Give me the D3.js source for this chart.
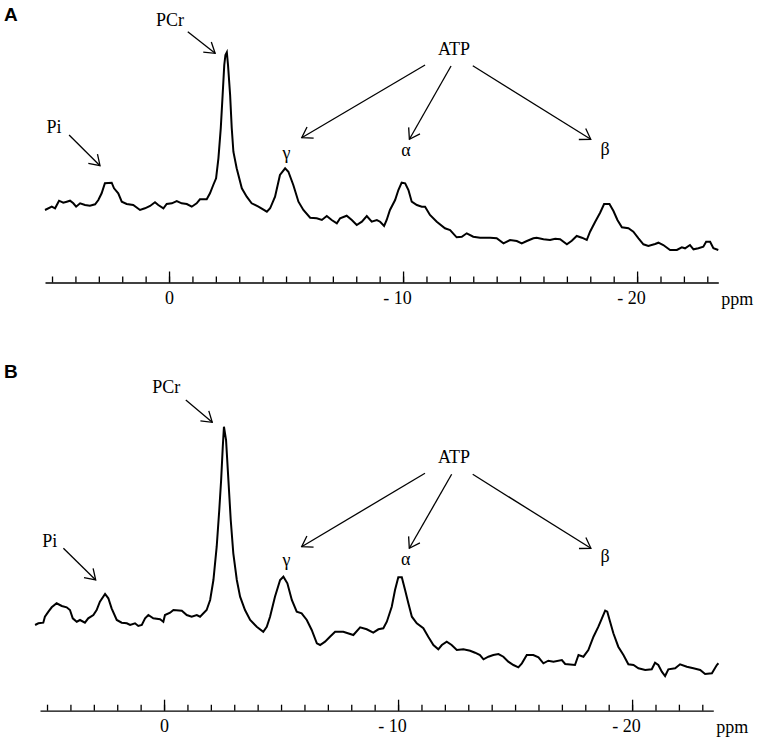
<!DOCTYPE html>
<html>
<head>
<meta charset="utf-8">
<script src="https://cdn.jsdelivr.net/npm/d3@7"></script>
<style>
	body { margin: 0; background: #fff; }
	svg { display: block; }
</style>
</head>
<body>
<script>
const w = 757;
const h = 740;
const serif = 'Liberation Serif, Times New Roman, DejaVu Serif, serif';

// chemical shift (ppm) and signal height (a.u.)
const ppmA = [5.30, 5.01, 4.87, 4.70, 4.52, 4.37, 4.23, 4.09, 3.97, 3.80, 3.59, 3.38, 3.16, 3.02, 2.88, 2.74, 2.45, 2.35, 2.17, 2.02,
	1.81, 1.53, 1.24, 1.03, 0.81, 0.60, 0.46, 0.24, 0.10, -0.12, -0.33, -0.54, -0.76, -0.97, -1.18, -1.32, -1.61, -1.75, -1.89, -2.01,
	-2.11, -2.21, -2.29, -2.36, -2.41, -2.47, -2.52, -2.61, -2.68, -2.75, -2.89, -3.11, -3.32, -3.53, -3.82, -4.18, -4.32, -4.53, -4.74, -4.96,
	-5.10, -5.31, -5.53, -5.74, -6.03, -6.31, -6.53, -6.74, -6.95, -7.17, -7.31, -7.59, -7.81, -8.02, -8.24, -8.45, -8.66, -8.88, -9.02, -9.19,
	-9.30, -9.44, -9.66, -9.80, -9.94, -10.09, -10.23, -10.37, -10.59, -10.80, -10.94, -11.15, -11.44, -11.79, -12.01, -12.29, -12.51, -12.72, -13.00, -13.29,
	-13.72, -14.00, -14.29, -14.57, -14.86, -15.07, -15.29, -15.57, -15.71, -16.00, -16.28, -16.50, -16.71, -17.00, -17.21, -17.42, -17.64, -17.85, -17.99, -18.21,
	-18.42, -18.59, -18.82, -18.99, -19.16, -19.35, -19.63, -19.84, -20.06, -20.27, -20.48, -20.77, -20.91, -21.12, -21.41, -21.70, -21.91, -22.05, -22.26, -22.41,
	-22.62, -22.83, -22.95, -23.12, -23.26, -23.47];
const intA = [72.5, 75.8, 74.2, 81.8, 79.8, 80.8, 81.8, 79.2, 75.8, 79.2, 77.5, 76.8, 78.2, 82.5, 89.2, 99.2, 99.8, 94.2, 89.2, 80.8,
	78.5, 77.5, 72.5, 74.2, 76.5, 80.2, 77.5, 74.2, 78.5, 79.2, 81.5, 79.2, 78.5, 75.8, 79.2, 83.2, 83.2, 89.2, 97.5, 104.2,
	124.2, 154.2, 187.5, 217.5, 227.5, 230.2, 217.5, 187.5, 154.2, 130.8, 114.2, 94.2, 85.8, 79.2, 75.8, 70.8, 74.2, 85.8, 107.5, 114.2,
	110.8, 97.5, 80.8, 72.5, 64.8, 64.2, 62.5, 66.5, 62.5, 59.2, 64.2, 66.8, 62.5, 57.5, 60.8, 66.5, 60.8, 62.5, 60.8, 56.5,
	62.5, 72.5, 82.5, 92.5, 99.8, 99.2, 92.5, 80.8, 77.5, 75.8, 75.8, 67.5, 60.8, 54.2, 52.5, 45.2, 45.8, 49.2, 45.8, 44.8,
	44.8, 44.2, 39.2, 42.5, 41.5, 39.2, 41.5, 44.2, 44.8, 43.2, 42.5, 43.8, 43.2, 38.2, 41.8, 46.5, 44.8, 42.5, 50.8, 60.8,
	69.8, 78.5, 78.5, 71.5, 62.5, 55.2, 54.2, 50.8, 44.2, 38.2, 36.5, 38.5, 39.8, 37.5, 32.5, 32.5, 35.2, 34.2, 37.5, 33.2,
	34.2, 35.8, 40.8, 40.8, 34.2, 32.5];

const ppmB = [5.51, 5.37, 5.16, 5.09, 4.94, 4.80, 4.59, 4.37, 4.16, 4.02, 3.90, 3.73, 3.59, 3.38, 3.24, 3.02, 2.88, 2.74, 2.52, 2.38,
	2.24, 2.02, 1.81, 1.59, 1.45, 1.24, 1.10, 0.95, 0.81, 0.67, 0.46, 0.17, 0.03, -0.04, -0.26, -0.40, -0.76, -0.97, -1.18, -1.40,
	-1.54, -1.82, -1.97, -2.11, -2.25, -2.36, -2.44, -2.51, -2.56, -2.65, -2.75, -2.85, -2.96, -3.11, -3.25, -3.46, -3.68, -3.96, -4.24, -4.39,
	-4.53, -4.74, -4.96, -5.10, -5.27, -5.46, -5.67, -5.88, -6.10, -6.31, -6.53, -6.67, -6.88, -7.09, -7.31, -7.66, -8.09, -8.38, -8.66, -8.94,
	-9.16, -9.37, -9.52, -9.73, -9.87, -10.01, -10.16, -10.30, -10.44, -10.59, -10.80, -11.08, -11.29, -11.51, -11.72, -11.87, -12.08, -12.29, -12.51, -12.79,
	-13.08, -13.29, -13.50, -13.65, -13.86, -14.07, -14.29, -14.50, -14.71, -14.93, -15.14, -15.29, -15.50, -15.78, -16.00, -16.21, -16.42, -16.64, -17.00, -17.14,
	-17.56, -17.71, -17.92, -18.13, -18.35, -18.56, -18.71, -18.85, -18.94, -19.06, -19.20, -19.41, -19.63, -19.84, -20.06, -20.27, -20.56, -20.84, -20.98, -21.12,
	-21.27, -21.41, -21.55, -21.84, -22.05, -22.34, -22.62, -22.91, -23.12, -23.41, -23.62, -23.69];
const intB = [85.7, 87.4, 88.0, 94.0, 99.0, 103.4, 107.4, 104.7, 103.4, 100.7, 92.4, 89.0, 90.7, 88.0, 92.4, 95.7, 100.7, 109.0, 116.7, 112.4,
	102.4, 90.7, 88.0, 87.4, 85.7, 87.4, 84.7, 85.7, 92.4, 95.7, 92.4, 91.4, 89.0, 95.7, 98.0, 100.7, 100.0, 95.7, 94.0, 95.7,
	94.0, 100.7, 110.7, 130.7, 164.0, 200.7, 230.7, 264.0, 284.0, 270.7, 230.7, 190.7, 157.4, 130.7, 114.0, 100.7, 90.7, 84.0, 79.0, 84.0,
	94.0, 114.0, 130.7, 134.0, 127.4, 110.7, 99.0, 97.4, 90.7, 80.7, 67.4, 65.7, 69.0, 74.0, 79.0, 79.0, 75.7, 83.4, 81.4, 78.0,
	81.4, 82.4, 89.0, 104.0, 120.7, 133.4, 133.4, 120.7, 107.4, 94.0, 87.4, 82.4, 74.0, 65.7, 61.4, 65.7, 69.0, 65.7, 60.7, 61.4,
	60.0, 58.0, 55.7, 51.4, 54.0, 55.7, 56.7, 54.0, 49.0, 45.7, 43.4, 47.4, 55.7, 55.7, 53.4, 47.4, 50.0, 49.0, 50.7, 46.7,
	45.7, 55.7, 54.0, 60.7, 74.0, 84.0, 92.4, 100.0, 99.0, 89.0, 77.4, 64.0, 55.7, 46.4, 45.7, 42.4, 40.7, 41.4, 48.0, 45.7,
	39.0, 34.7, 41.4, 42.4, 46.4, 44.0, 42.4, 40.7, 36.7, 37.4, 45.7, 47.4];

// axis: one tick per ppm, long ticks + labels every 10 ppm
const ppmExtent = [5.3, -23.47];
const tickPpm = d3.range(5, -24, -1);
const majorPpm = [0, -10, -20];

// peak annotations: [text, ppm, height]
const labelsA = [['Pi', 4.91, 149.5], ['PCr', -0.04, 256.5], ['ATP', -12.18, 227.5],
	['γ', -5.02, 123.5], ['α', -10.12, 126.5], ['β', -18.63, 127.5]];
const labelsB = [['Pi', 4.88, 163.7], ['PCr', -0.09, 317.4], ['ATP', -12.39, 247.4],
	['γ', -5.23, 144.7], ['α', -10.33, 145.7], ['β', -18.85, 148.7]];
// arrows: [ppm from, height from, ppm to, height to]
const arrowsA = [[4.27, 147.5, 2.95, 116.8], [-0.80, 250.8, -1.97, 229.2], [-10.94, 217.5, -5.67, 144.8],
	[-12.05, 216.5, -10.27, 143.2], [-12.98, 216.8, -18.02, 143.2]];
const arrowsB = [[4.30, 162.4, 2.92, 130.7], [-0.93, 310.7, -2.06, 288.4], [-11.15, 237.4, -5.88, 164.0],
	[-12.29, 236.4, -10.48, 162.4], [-13.19, 236.4, -18.24, 162.4]];

const svg = d3.select('body').append('svg').attr('width', w).attr('height', h);

svg.append('defs').append('marker')
	.attr('id', 'head')
	.attr('viewBox', '-1 -8 12 16')
	.attr('refX', 10)
	.attr('refY', 0)
	.attr('markerWidth', 12)
	.attr('markerHeight', 16)
	.attr('markerUnits', 'userSpaceOnUse')
	.attr('orient', 'auto')
	.append('path')
	.attr('d', 'M0,-6.5L10,0L0,6.5')
	.attr('fill', 'none')
	.attr('stroke', '#000')
	.attr('stroke-width', 1.3);

function drawPanel(cfg) {
	const g = svg.append('g');

	let x = d3.scaleLinear().domain(ppmExtent).range([ cfg.left, cfg.right ]);
	let y = d3.scaleLinear().domain([ 0, 300 ]).range([ cfg.base, cfg.base - 300 ]);

	g.append('text')
		.attr('x', cfg.letterX)
		.attr('y', cfg.letterY)
		.attr('font-family', 'Liberation Sans, Arial, sans-serif')
		.attr('font-size', 19)
		.attr('font-weight', 'bold')
		.text(cfg.letter);

	// minor ticks pointing up from the axis line
	const minor = g.append('g')
		.attr('transform', 'translate(0,' + cfg.base + ')')
		.call(d3.axisBottom(x).tickValues(tickPpm).tickSizeInner(-6).tickSizeOuter(0).tickFormat(''));

	// major ticks with labels
	const major = g.append('g')
		.attr('transform', 'translate(0,' + cfg.base + ')')
		.call(d3.axisBottom(x).tickValues(majorPpm).tickSizeInner(-11).tickSizeOuter(0).tickPadding(9)
			.tickFormat(function(d) {
				return d === 0 ? '0' : '- ' + Math.abs(d);
			}));
	major.select('.domain').remove();
	major.attr('font-family', serif).attr('font-size', 18);
	major.selectAll('text').attr('dx', function(d) {
		return d === 0 ? 0 : -6;
	});
	g.selectAll('path.domain, .tick line').attr('stroke-width', 1.3);

	g.append('text')
		.attr('x', cfg.right + 3)
		.attr('y', cfg.base + 22)
		.attr('font-family', serif)
		.attr('font-size', 18)
		.text('ppm');

	const line = d3.line()
		.x(function(d) { return x(d[0]); })
		.y(function(d) { return y(d[1]); });

	g.append('path')
		.datum(d3.zip(cfg.ppm, cfg.int))
		.attr('d', line)
		.attr('fill', 'none')
		.attr('stroke', '#000')
		.attr('stroke-width', 2);

	g.selectAll('.arrow')
		.data(cfg.arrows)
		.enter()
		.append('line')
		.attr('class', 'arrow')
		.attr('x1', function(d) { return x(d[0]); })
		.attr('y1', function(d) { return y(d[1]); })
		.attr('x2', function(d) { return x(d[2]); })
		.attr('y2', function(d) { return y(d[3]); })
		.attr('stroke', '#000')
		.attr('stroke-width', 1.3)
		.attr('marker-end', 'url(#head)');

	g.selectAll('.peak')
		.data(cfg.labels)
		.enter()
		.append('text')
		.attr('class', 'peak')
		.attr('font-family', serif)
		.attr('font-size', 18)
		.attr('text-anchor', 'middle')
		.attr('x', function(d) { return x(d[1]); })
		.attr('y', function(d) { return y(d[2]); })
		.text(function(d) { return d[0]; });
}

drawPanel({ letter: 'A', letterX: 4, letterY: 21, left: 45, right: 718.3, base: 282.5,
	ppm: ppmA, int: intA, labels: labelsA, arrows: arrowsA });
drawPanel({ letter: 'B', letterX: 4, letterY: 378, left: 40, right: 713.3, base: 710.7,
	ppm: ppmB, int: intB, labels: labelsB, arrows: arrowsB });
</script>
</body>
</html>
